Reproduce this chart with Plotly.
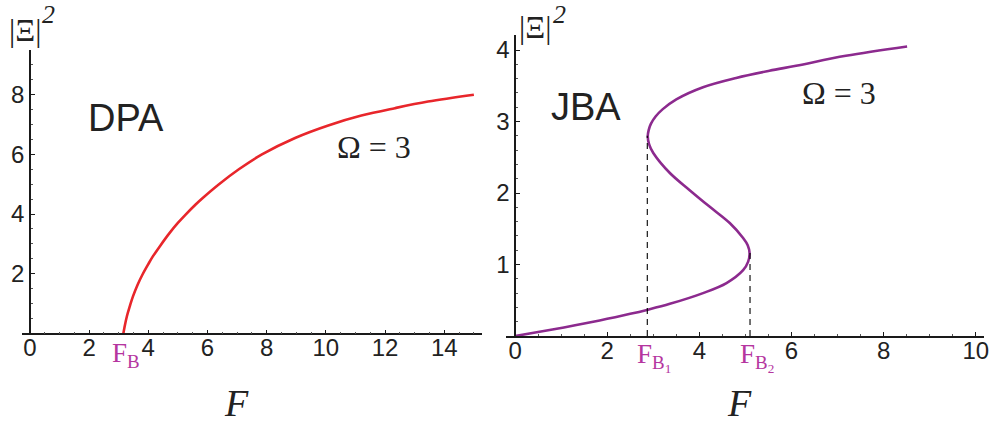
import plotly.graph_objects as go

# ---------------- data ----------------
dpa_F = [3.16, 3.20, 3.28, 3.38, 3.48, 3.64, 3.81, 4.00, 4.15, 4.40, 4.71, 5.00, 5.27, 5.60, 5.83, 6.39, 7.06, 7.84, 8.96, 10.08, 11.2, 12.33, 13.45, 15.0]
dpa_n = [0.0, 0.22, 0.58, 0.92, 1.23, 1.63, 1.98, 2.32, 2.57, 2.93, 3.35, 3.70, 3.99, 4.32, 4.53, 5.00, 5.50, 6.00, 6.55, 6.97, 7.30, 7.55, 7.77, 8.0]

jba_F = [0.0, 0.5, 1.06, 1.5, 2.0, 2.5, 2.86, 3.36, 4.08, 4.59, 4.95, 5.06, 5.09, 5.05, 4.95, 4.66, 4.22, 3.79, 3.36, 3.0, 2.91, 2.88,
         2.90, 2.95, 3.05, 3.20, 3.50, 4.08, 4.80, 5.52, 6.10, 7.18, 8.51]
jba_n = [0.0, 0.055, 0.12, 0.175, 0.24, 0.31, 0.365, 0.45, 0.60, 0.74, 0.92, 1.04, 1.16, 1.27, 1.37, 1.58, 1.81, 2.04, 2.28, 2.56, 2.68, 2.79,
         2.88, 2.97, 3.07, 3.17, 3.31, 3.48, 3.61, 3.71, 3.78, 3.92, 4.05]

FB = 3.16
FB1, nB1 = 2.87, 2.80
FB2, nB2 = 5.10, 1.17

left_xticks = [0, 2, 4, 6, 8, 10, 12, 14]
left_yticks = [2, 4, 6, 8]
right_xticks = [0, 2, 4, 6, 8, 10]
right_yticks = [1, 2, 3, 4]

RED = "#e8262b"
PURPLE = "#8c2a8e"
MAG = "#b5359f"
AX = "#1a1a1a"
W, H = 993, 426

def px(x):
    return x / W

def py(y):
    return 1 - y / H

fig = go.Figure()
fig.add_trace(go.Scatter(x=dpa_F, y=dpa_n, mode="lines", line=dict(color=RED, width=2.6, shape="spline", smoothing=1.0),
                         xaxis="x", yaxis="y", showlegend=False, hoverinfo="skip"))
fig.add_trace(go.Scatter(x=jba_F, y=jba_n, mode="lines", line=dict(color=PURPLE, width=2.6, shape="spline", smoothing=1.0),
                         xaxis="x2", yaxis="y2", showlegend=False, hoverinfo="skip"))
fig.add_trace(go.Scatter(x=[FB1, FB1], y=[0, nB1], mode="lines", line=dict(color="black", width=1.1, dash="6px,5px"),
                         xaxis="x2", yaxis="y2", showlegend=False, hoverinfo="skip"))
fig.add_trace(go.Scatter(x=[FB2, FB2], y=[0, nB2], mode="lines", line=dict(color="black", width=1.1, dash="6px,5px"),
                         xaxis="x2", yaxis="y2", showlegend=False, hoverinfo="skip"))

tickfont = dict(family="Liberation Sans, Arial", size=24, color="#222222")

def xax(dom, rng, ticks, yref):
    return dict(domain=dom, range=rng, anchor=yref, showline=True, linecolor=AX, linewidth=1.6,
                tickvals=ticks, ticktext=[str(t) for t in ticks], ticks="inside", ticklen=4, tickwidth=1.2,
                tickcolor=AX, tickfont=tickfont, showgrid=False, zeroline=False, ticklabelstandoff=-8,
                ticklabeloverflow="allow",
                minor=dict(dtick=0.5, tick0=0, ticks="inside", ticklen=2, tickcolor="#555555", tickwidth=1))

def yax(dom, rng, ticks, pos, mdt):
    return dict(domain=dom, range=rng, anchor="free", position=pos, showline=True, linecolor=AX, linewidth=1.6,
                tickvals=ticks, ticktext=[str(t) for t in ticks], ticks="inside", ticklen=4, tickwidth=1.2,
                tickcolor=AX, tickfont=tickfont, showgrid=False, zeroline=False, ticklabeloverflow="allow",
                minor=dict(dtick=mdt, tick0=0, ticks="inside", ticklen=2, tickcolor="#555555", tickwidth=1))

fig.update_layout(
    width=W, height=H, margin=dict(l=0, r=0, t=0, b=0),
    paper_bgcolor="white", plot_bgcolor="white",
    xaxis=xax([px(21.7), px(484)], [-0.28, 15.26], left_xticks, "y"),
    yaxis=yax([py(333.3), py(50)], [0, 9.5], left_yticks, px(30), 0.5),
    xaxis2=xax([px(508.3), px(989)], [-0.203, 10.18], right_xticks, "y2"),
    yaxis2=yax([py(336), py(35)], [0, 4.21], right_yticks, px(517.7), 0.2),
)

serif = "Liberation Serif, Times New Roman"
sans = "Liberation Sans, Arial"
ann = []

def add(text, x, y, size, fam, color="#222222", xref="paper", yref="paper"):
    ann.append(dict(text=text, x=x, y=y, xref=xref, yref=yref, showarrow=False,
                    font=dict(size=size, family=fam, color=color), xanchor="center", yanchor="middle"))

# left panel
add("DPA", px(127), py(118), 38, sans)
add("Ω = 3", px(376), py(147), 32, serif)
add("<i>F</i>", px(238), py(403), 38, serif)
add("|Ξ|", px(25), py(30), 31, serif)
add("<i>2</i>", px(49), py(15), 26, serif)
add("F<sub>B</sub>", px(127), py(355), 27, serif, MAG)
# right panel
add("JBA", px(589), py(107), 38, sans)
add("Ω = 3", px(843), py(93), 32, serif)
add("<i>F</i>", px(743), py(403), 38, serif)
add("|Ξ|", px(538), py(27), 31, serif)
add("<i>2</i>", px(562), py(15), 26, serif)
add("F<sub>B<sub>1</sub></sub>", px(657), py(357), 27, serif, MAG)
add("F<sub>B<sub>2</sub></sub>", px(761), py(357), 27, serif, MAG)

fig.update_layout(annotations=ann)
fig.write_html("out.html", config={"displayModeBar": False},
               post_script="document.body.style.margin='0';document.body.style.overflow='hidden';")
